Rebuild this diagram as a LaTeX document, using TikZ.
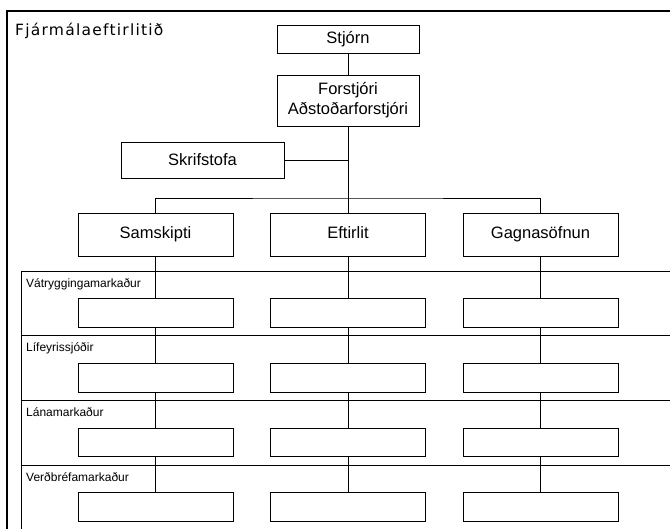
\documentclass[tikz,border=0pt]{standalone}
\usepackage{fontspec}
\setmainfont{Liberation Sans}
\newfontfamily\titlefont[LetterSpace=8]{DejaVu Sans}
\usetikzlibrary{positioning}

\begin{document}
\begin{tikzpicture}[x=1pt,y=-1pt,
  box/.style={draw,fill=white,line width=0.8pt,inner sep=0pt,align=center,
    font=\fontsize{16.5}{20}\selectfont},
  unit/.style={box,minimum width=155pt,minimum height=43pt,text height=12pt,text depth=3.5pt},
  empty/.style={box,minimum width=155pt,minimum height=28.5pt},
  lane/.style={anchor=base west,inner sep=0pt,font=\fontsize{12}{14}\selectfont},
  link/.style={line width=0.8pt}]
\useasboundingbox (0,0) rectangle (670,528);
\clip (0,0) rectangle (670,528);

% frame and lanes
\draw[line width=1.6pt] (7,600) |- (700,11);
\draw[link] (21,600) |- (700,271);
\foreach \i in {1,2,3}
  \draw[link] (21,{271+64.7*\i}) -- (700,{271+64.7*\i});

\node[anchor=base west,inner sep=0pt,font=\titlefont\fontsize{15.5}{18}\selectfont] (title) at (15,35.7) {Fjármálaeftirlitið};

\node[box,minimum width=142pt,minimum height=28pt] (stjorn) at (348,39) {Stjórn};
\node[box,minimum width=142pt,minimum height=51pt] (forstjori) at (348,100.5) {Forstjóri\\Aðstoðarforstjóri};
\node[box,minimum width=163pt,minimum height=36pt] (skrifstofa) at (202.5,160) {Skrifstofa};
\node[unit] (samskipti) at (155.5,234.5) {Samskipti};
\node[unit] (eftirlit) at (348,234.5) {Eftirlit};
\node[unit] (gagna) at (540.5,234.5) {Gagnasöfnun};
\coordinate (jct) at (348,198);

\foreach \n/\x in {s/155.5,e/348,g/540.5}
  \foreach \i in {1,...,4}
    \node[empty] (\n\i) at (\x,{313+64.7*(\i-1)}) {};

\foreach \i/\txt in {1/Vátryggingamarkaður,2/Lífeyrissjóðir,3/Lánamarkaður,4/Verðbréfamarkaður}
  \node[lane] (lane\i) at (26,{287+64.7*(\i-1)}) {\txt};

% connectors
\draw[link] (stjorn) -- (forstjori);
\draw[link] (forstjori) -- (eftirlit);
\draw[link] (skrifstofa) -- (skrifstofa -| forstjori);
\draw[link] (samskipti.north) |- (jct) -| (gagna.north);
\foreach \n/\top in {s/samskipti,e/eftirlit,g/gagna}
  \draw[link] (\top) -- (\n1) -- (\n2) -- (\n3) -- (\n4);
\end{tikzpicture}
\end{document}
